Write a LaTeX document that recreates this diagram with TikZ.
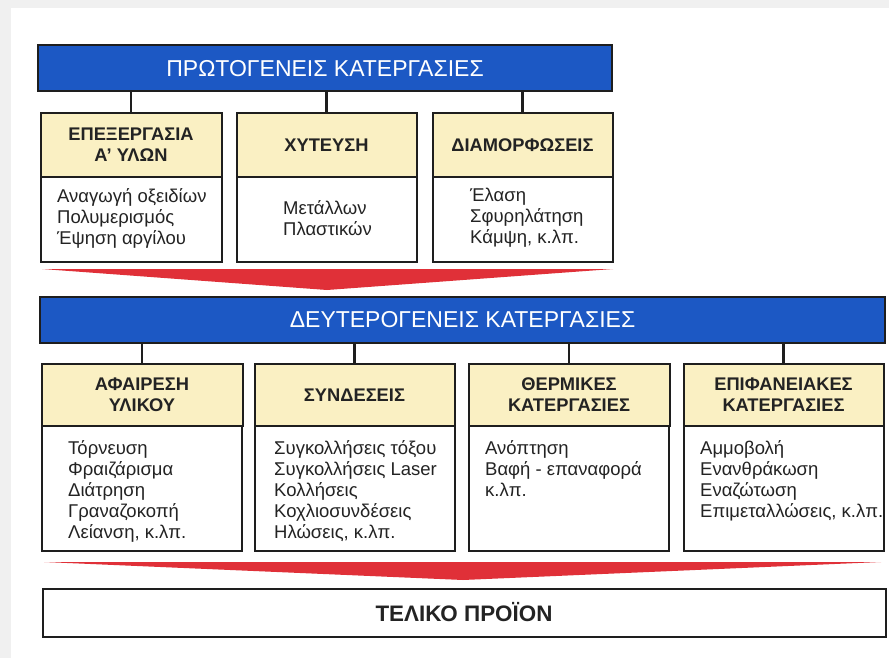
\documentclass[tikz,border=0pt]{standalone}
\usepackage{fontspec}
\setmainfont{Liberation Sans}
\usetikzlibrary{positioning}

\definecolor{barblue}{RGB}{28,88,196}
\definecolor{headyellow}{RGB}{250,240,195}
\definecolor{edge}{RGB}{30,30,30}
\definecolor{textgrey}{RGB}{35,35,35}
\definecolor{wedgered}{RGB}{224,48,56}
\definecolor{pagegrey}{RGB}{240,240,240}

\tikzset{
    bar/.style={draw=edge, line width=2pt, fill=barblue, text=white, outer sep=0pt, font=\fontsize{23}{27}\selectfont},
    head/.style={draw=edge, line width=2pt, fill=headyellow, text=textgrey, align=center, outer sep=0pt, font=\bfseries\fontsize{18.3}{21}\selectfont},
    body/.style={draw=edge, line width=2pt, fill=white, text=textgrey, outer sep=0pt},
    list/.style={anchor=north west, inner sep=0pt, align=left, text=textgrey, font=\fontsize{18.5}{21}\selectfont},
    link/.style={draw=edge, line width=2.2pt},
    wedge/.style={fill=wedgered}
}

\begin{document}
\begin{tikzpicture}[x=1pt,y=-1pt]
    %page
    \useasboundingbox (0,0) rectangle (889,658);
    \fill[pagegrey] (0,0) rectangle (889,658);
    \fill[white] (11,8) rectangle (889,658);

    %primary bar
    \node[bar, minimum width=574pt, minimum height=46pt] (prim) at (325,68.5) {ΠΡΩΤΟΓΕΝΕΙΣ ΚΑΤΕΡΓΑΣΙΕΣ};

    %first row headers
    \node[head, minimum width=181pt, minimum height=64pt] (mat) at (131,145) {ΕΠΕΞΕΡΓΑΣΙΑ\\Α’ ΥΛΩΝ};
    \node[head, minimum width=180pt, minimum height=64pt] (cast) at (326.5,145) {ΧΥΤΕΥΣΗ};
    \node[head, minimum width=180pt, minimum height=64pt] (form) at (522.5,145) {ΔΙΑΜΟΡΦΩΣΕΙΣ};

    %first row bodies
    \node[body, minimum width=181pt, minimum height=85pt, below=0pt of mat] (matb) {};
    \node[body, minimum width=180pt, minimum height=85pt, below=0pt of cast] (castb) {};
    \node[body, minimum width=180pt, minimum height=85pt, below=0pt of form] (formb) {};
    \node[list] (matl) at (57,188) {Αναγωγή οξειδίων\\Πολυμερισμός\\Έψηση αργίλου};
    \node[list] (castl) at (283,200) {Μετάλλων\\Πλαστικών};
    \node[list] (forml) at (470,188) {Έλαση\\Σφυρηλάτηση\\Κάμψη, κ.λπ.};

    %links to first row
    \foreach \n in {mat,cast,form}
    \draw[link] (\n.north) -- (\n.north |- prim.south);

    %first wedge
    \fill[wedge] (42,269) -- (613,269) -- (327,290) -- cycle;

    %secondary bar
    \node[bar, minimum width=845pt, minimum height=46pt] (sec) at (462.5,320) {ΔΕΥΤΕΡΟΓΕΝΕΙΣ ΚΑΤΕΡΓΑΣΙΕΣ};

    %second row headers
    \node[head, minimum width=201pt, minimum height=62pt] (cut) at (142,395) {ΑΦΑΙΡΕΣΗ\\ΥΛΙΚΟΥ};
    \node[head, minimum width=200pt, minimum height=62pt] (join) at (354.5,395) {ΣΥΝΔΕΣΕΙΣ};
    \node[head, minimum width=201pt, minimum height=62pt] (heat) at (569,395) {ΘΕΡΜΙΚΕΣ\\ΚΑΤΕΡΓΑΣΙΕΣ};
    \node[head, minimum width=200pt, minimum height=62pt] (surf) at (783.5,395) {ΕΠΙΦΑΝΕΙΑΚΕΣ\\ΚΑΤΕΡΓΑΣΙΕΣ};

    %second row bodies
    \foreach \n in {cut,join,heat,surf}
    \node[body, minimum width=200pt, minimum height=125pt, below=0pt of \n] (\n b) {};
    \node[list] (cutl) at (68,440) {Τόρνευση\\Φραιζάρισμα\\Διάτρηση\\Γραναζοκοπή\\Λείανση, κ.λπ.};
    \node[list] (joinl) at (274,440) {Συγκολλήσεις τόξου\\Συγκολλήσεις Laser\\Κολλήσεις\\Κοχλιοσυνδέσεις\\Ηλώσεις, κ.λπ.};
    \node[list] (heatl) at (485,440) {Ανόπτηση\\Βαφή - επαναφορά\\κ.λπ.};
    \node[list] (surfl) at (700,440) {Αμμοβολή\\Ενανθράκωση\\Εναζώτωση\\Επιμεταλλώσεις, κ.λπ.};

    %links to second row
    \foreach \n in {cut,join,heat,surf}
    \draw[link] (\n.north) -- (\n.north |- sec.south);

    %second wedge
    \fill[wedge] (44,562) -- (881,562) -- (463,580) -- cycle;

    %final product
    \node[body, minimum width=843pt, minimum height=48pt, font=\bfseries\fontsize{22.4}{26}\selectfont] (final) at (464,612.5) {ΤΕΛΙΚΟ ΠΡΟΪΟΝ};

\end{tikzpicture}
\end{document}
